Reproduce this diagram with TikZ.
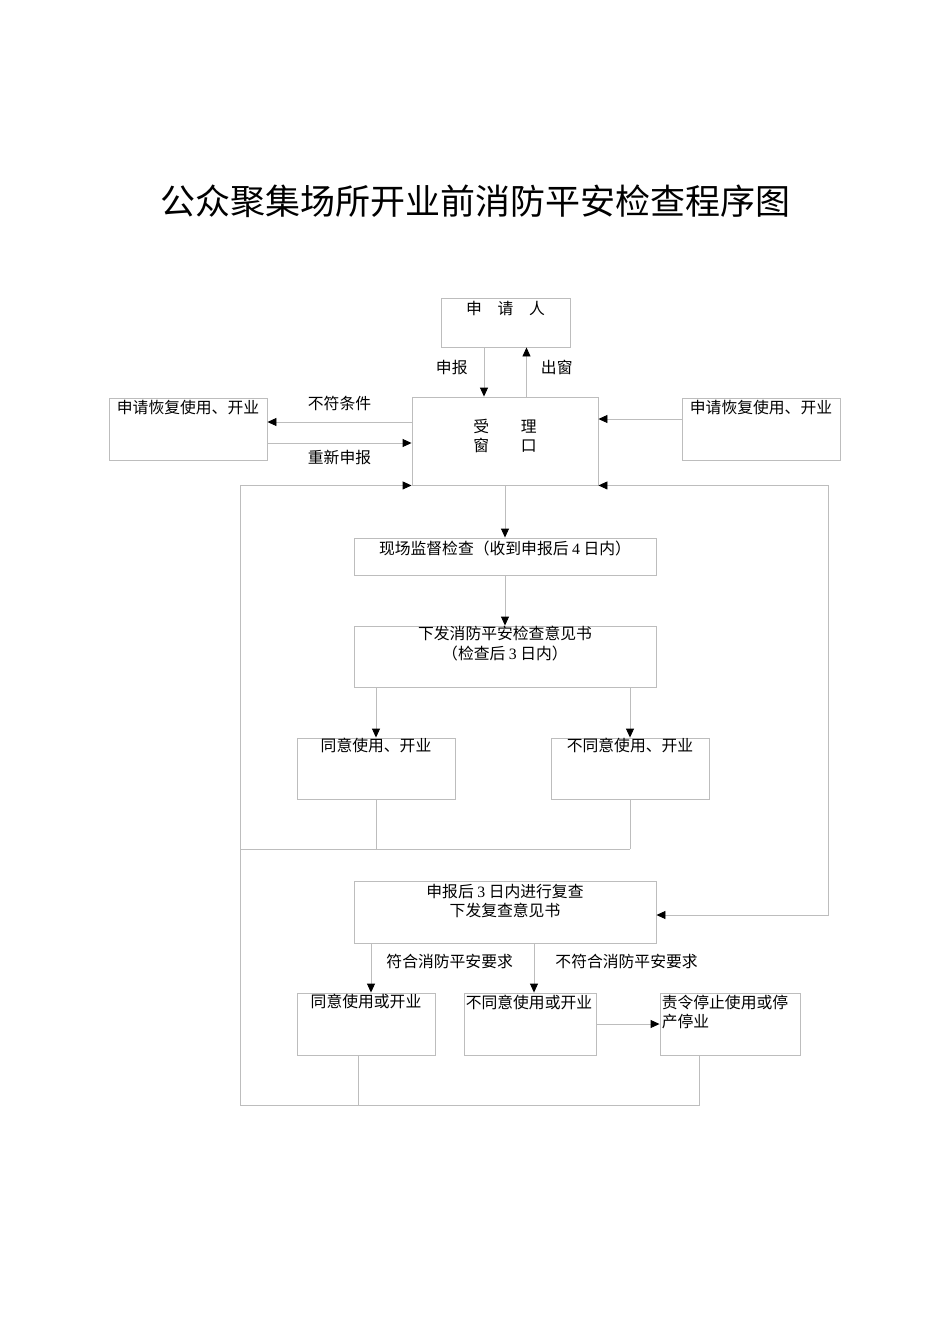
\documentclass[tikz,border=0pt]{standalone}
\usepackage{fontspec}
\usepackage{xcolor}
\usepackage{tikz}
\usetikzlibrary{arrows.meta,positioning}
\newfontfamily\cjk{Noto Sans CJK SC}
\newfontfamily\digitfont{Liberation Serif}
\definecolor{edge}{HTML}{BDBDBD}
\definecolor{ink}{HTML}{000000}
\tikzset{
  box/.style 2 args={draw=edge, line width=0.9pt, minimum width=#1, minimum height=#2, inner sep=0pt},
  line/.style={draw=edge, line width=0.9pt},
  arr/.style={line, -{Triangle[length=9pt, width=8pt, color=ink, fill=ink]}},
  txt/.style={text=ink, font=\cjk\fontsize{15.8}{20}\selectfont, inner sep=0pt, align=center},
  lab/.style={txt},
  ttl/.style={text=ink, font=\cjk\fontsize{35}{40}\selectfont},
}

\begin{document}
\begin{tikzpicture}[x=1pt, y=-1pt]
\useasboundingbox (0,0) rectangle (950,1344);
\node[ttl] (title) at (475,201) {公众聚集场所开业前消防平安检查程序图};

\node[box={129}{49}, label={[txt,anchor=north,yshift=-3]north:申\quad 请\quad 人}] (app) at (505.5,322.5) {};
\node[box={186}{88}, label={[txt,anchor=north,yshift=-22,font=\cjk\fontsize{15.8}{19}\selectfont]north:受\qquad 理\\窗\qquad 口}] (acc) at (505,441) {};
\node[box={158}{62}, label={[txt,anchor=north,yshift=-2]north:申请恢复使用、开业}] (lb) at (188,429) {};
\node[box={158}{62}, label={[txt,anchor=north,yshift=-2]north:申请恢复使用、开业}] (rb) at (761,429) {};

\node[box={302}{37}, label={[txt,anchor=north,yshift=-3]north:现场监督检查（收到申报后 {\digitfont 4} 日内）}] (site) at (505,556.5) {};
\node[box={302}{61}, label={[txt,anchor=north,yshift=0]north:下发消防平安检查意见书\\（检查后 {\digitfont 3} 日内）}] (iss) at (505,656.5) {};
\node[box={158}{61}, label={[txt,anchor=north,yshift=0]north:同意使用、开业}] (ok1) at (376,768.5) {};
\node[box={158}{61}, label={[txt,anchor=north,yshift=0]north:不同意使用、开业}] (no1) at (630,768.5) {};

\node[box={302}{62}, label={[txt,anchor=north,yshift=-3,font=\cjk\fontsize{15.8}{19}\selectfont]north:申报后 {\digitfont 3} 日内进行复查\\下发复查意见书}] (rev) at (505,912) {};
\node[box={138}{62}, label={[txt,anchor=north,yshift=-1]north:同意使用或开业}] (ok2) at (366,1024) {};
\node[box={132}{62}, label={[txt,anchor=north west,xshift=2,yshift=-2]north west:不同意使用或开业}] (no2) at (530,1024) {};
\node[box={140}{62}, label={[txt,align=left,anchor=north west,xshift=2,yshift=-2,font=\cjk\fontsize{15.8}{19}\selectfont]north west:责令停止使用或停\\产停业}] (stop) at (730,1024) {};

\coordinate (lx) at (240,849);
\coordinate (bot) at (240,1105);
\coordinate (rx) at (828,700);

\draw[arr] ([xshift=-21.5]app.south) -- ([xshift=-21.5]app.south |- acc.north) node[lab, pos=0.4, left=16pt] {申报};
\draw[arr] ([xshift=21.5]acc.north) -- ([xshift=21.5]acc.north |- app.south) node[lab, pos=0.6, right=14pt] {出窗};
\draw[arr] ([yshift=19]acc.west) -- ([yshift=19]acc.west -| lb.east) node[lab, midway, above=11pt] {不符条件};
\draw[arr] ([yshift=-2]acc.west -| lb.east) -- ([yshift=-2]acc.west) node[lab, midway, below=7pt] {重新申报};
\draw[arr] ([yshift=22]acc.east -| rb.west) -- ([yshift=22]acc.east);

\draw[arr] (acc.south) -- (site.north);
\draw[arr] (site.south) -- (iss.north);
\foreach \n in {ok1,no1}
  \draw[arr] (iss.south -| \n.north) -- (\n.north);

\foreach \n in {ok1,no1}
  \draw[line] (\n.south) -- (\n.south |- lx);
\draw[line] (lx) -- (no1.south |- lx);
\draw[arr] ([xshift=-31]stop.south) |- (bot) |- (acc.south west);
\draw[line] ([xshift=-8]ok2.south) -- ([xshift=-8]ok2.south |- bot);
\draw[arr] (rx) |- (acc.south east);
\draw[arr] (rx) |- ([yshift=-3]rev.east);

\draw[arr] ([xshift=5]ok2.north |- rev.south) -- ([xshift=5]ok2.north) node[lab, pos=0.36, right=15pt] {符合消防平安要求};
\draw[arr] ([xshift=4]no2.north |- rev.south) -- ([xshift=4]no2.north) node[lab, pos=0.36, right=21pt] {不符合消防平安要求};
\draw[arr] (no2.east) -- (stop.west);
\end{tikzpicture}
\end{document}
